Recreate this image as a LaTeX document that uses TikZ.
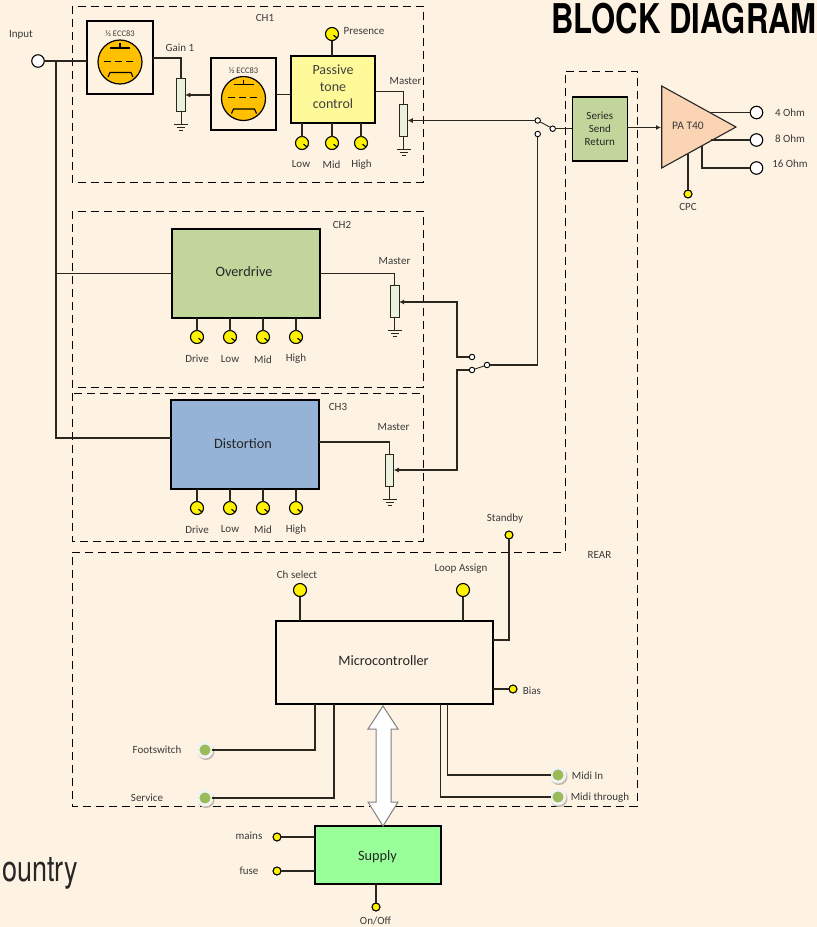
\documentclass[tikz,border=0pt]{standalone}
\usepackage{fontspec}
\setmainfont{Carlito}
\newfontfamily\titlefont{TeX Gyre Heros}
\usetikzlibrary{arrows.meta,calc}
\definecolor{bgc}{HTML}{FEF3E2}
\definecolor{txt}{HTML}{3A3A3A}
\definecolor{wirec}{HTML}{2A2620}
\definecolor{tubec}{HTML}{FFC000}
\definecolor{olive}{HTML}{C2D69B}
\definecolor{bluec}{HTML}{95B3D7}
\definecolor{potc}{HTML}{EAF1DD}
\definecolor{pac}{HTML}{FBD4B4}
\definecolor{jackg}{HTML}{9BBB59}
\newcommand{\fs}[1]{\fontsize{#1}{#1}\selectfont}
\tikzset{
  x=1pt,y=-1pt,
  blk/.style={draw=black,line width=1.1pt,inner sep=0pt,outer sep=0pt,align=center,text=black!85},
  potn/.style={draw=wirec,fill=potc,line width=1pt,minimum width=8.5pt,minimum height=32.5pt,inner sep=0pt,outer sep=0pt},
  wire/.style={draw=wirec,line width=1.05pt},
  feed/.style={wire,-{Latex[length=5pt,width=5pt]}},
  frame/.style={draw=black,line width=.9pt,dash pattern=on 8pt off 5pt},
  lab/.style={font=\fs{11},text=txt,inner sep=0pt},
  disc/.style={circle,draw=black,fill=yellow,line width=1.1pt,minimum size=13pt,inner sep=0pt,outer sep=0pt},
  knob/.style={disc,
    path picture={\draw[black,line width=1.1pt] ($(path picture bounding box.center)+(1.5,1.2)$) -- ++(6,4.8);}},
  dot/.style={circle,draw=black,fill=yellow,line width=1.1pt,minimum size=8pt,inner sep=0pt,outer sep=0pt},
  term/.style={circle,draw=black,fill=white,line width=1.1pt,minimum size=12.5pt,inner sep=0pt,outer sep=0pt},
  cont/.style={circle,draw=black,fill=white,line width=.9pt,minimum size=5.5pt,inner sep=0pt,outer sep=0pt},
  jack/.style={circle,fill=jackg,draw=white!90!gray,line width=3pt,minimum size=14pt,inner sep=0pt,outer sep=0pt},
  jackshadow/.style={circle,fill=black!25!bgc,minimum size=17pt,inner sep=0pt},
  gnd/.pic={\draw[wirec,line width=1pt] (0,0) -- (0,13) (-7,13) -- (7,13) (-4,16) -- (4,16) (-2,19) -- (2,19);},
  tube/.pic={
    \draw[black,line width=1.2pt,fill=tubec] (0,4.5) circle[radius=22];
    \draw[black,line width=1.1pt] (0,-14.5) -- (0,-9.5) (-10,-9.5) -- (10,-9.5);
    \draw[black,line width=.9pt,dash pattern=on 7pt off 4pt] (-16,3.5) -- (17,3.5);
    \draw[black,line width=1.1pt] (-12,19.5) -- (-10,15) -- (11,15) -- (13,19.5);
  }
}
\newcommand{\jackat}[2]{\node[jackshadow] at ($(#2)+(1,1.5)$) {}; \node[jack] (#1) at (#2) {};}
\begin{document}
\begin{tikzpicture}
\useasboundingbox[fill=bgc] (0,0) rectangle (817,927);

% title and stray text
\node[font=\titlefont\bfseries\fs{41},text=black,anchor=base east,inner sep=0pt,xscale=.758,transform shape] (title) at (817,33) {BLOCK DIAGRAM};
\node[font=\titlefont\fs{36},text=black!85,anchor=base west,inner sep=0pt,xscale=.75,transform shape] (country) at (2,881) {ountry};

% dashed frames
\draw[frame] (72,6) rectangle (423,182);
\draw[frame] (72,211) rectangle (423,387);
\draw[frame] (72,393) rectangle (423,541);
\draw[frame] (72,552) -- (565,552) -- (565,71) -- (637,71) -- (637,806) -- (72,806) -- cycle;

% blocks
\node[blk,fill=bgc,minimum width=66pt,minimum height=73pt] (tube1) at (120,57.5) {};
\pic at (120,57.5) {tube};
\node[lab,font=\fs{8.5}] (tube1lab) at (120,34) {½ ECC83};
\node[blk,fill=bgc,minimum width=65pt,minimum height=72pt] (tube2) at (243.5,94) {};
\pic at (243.5,94) {tube};
\node[lab,font=\fs{8.5}] (tube2lab) at (243.5,70.5) {½ ECC83};
\node[blk,fill=yellow!40,minimum width=84pt,minimum height=67pt] (tone) at (333,89.5) {};
\node[font=\fs{14},text=black!75,inner sep=0pt,align=center] (tonel) at (333,87) {Passive\\[3pt]tone\\[3pt]control};
\node[blk,fill=olive,minimum width=148pt,minimum height=89pt] (od) at (246,273.5) {};
\node[font=\fs{14.3},text=black!85,inner sep=0pt] (odl) at (244,272) {Overdrive};
\node[blk,fill=bluec,minimum width=148pt,minimum height=89pt] (dist) at (245,444.5) {};
\node[font=\fs{14.3},text=black!85,inner sep=0pt] (distl) at (243,444) {Distortion};
\node[blk,fill=olive,minimum width=55pt,minimum height=64pt,font=\fs{11}] (series) at (599.8,129) {Series\\[2pt]Send\\[2pt]Return};
\node[blk,fill=bgc,minimum width=217pt,minimum height=83pt] (micro) at (384.5,662.5) {};
\node[font=\fs{14.3},text=black!85,inner sep=0pt] (microl) at (383.5,660.5) {Microcontroller};
\node[blk,fill=green!40!white,minimum width=126pt,minimum height=58pt] (supply) at (378,855) {};
\node[font=\fs{14.3},text=black!85,inner sep=0pt] (supplyl) at (377.5,857) {Supply};

% power amp
\draw[line width=1.1pt,draw=black!85,fill=pac] (661.7,86) -- (736,127) -- (661.7,168) -- cycle;
\node[lab,font=\fs{11.5}] (pa) at (688,125.5) {PA T40};
\coordinate (pain) at (661,127.5);

% pots
\node[potn] (gain) at (181,95) {};
\node[potn] (m1) at (403.5,120.5) {};
\node[potn] (m2) at (394.8,301.5) {};
\node[potn] (m3) at (389.5,470.3) {};
\pic at (gain.south) {gnd};
\pic at (m1.south) {gnd};
\pic at (m2.south) {gnd};
\pic at (m3.south) {gnd};

% input
\node[term] (input) at (38,61) {};
\coordinate (tap) at (56,61);

% knobs
\node[knob] (presence) at (332,34) {};
\node[knob] (low1) at (302,143) {};
\node[knob] (mid1) at (332,143) {};
\node[knob] (high1) at (361,143) {};
\foreach \n/\x in {drive2/197,low2/230,mid2/263,high2/296}{\node[knob] (\n) at (\x,337) {};}
\foreach \n/\x in {drive3/197,low3/230,mid3/263,high3/296}{\node[knob] (\n) at (\x,508) {};}
\node[disc] (chsel) at (300,590) {};
\node[disc] (loop) at (463,590) {};
\node[dot] (standby) at (509,535) {};
\node[dot] (bias) at (513,689) {};
\node[dot] (cpc) at (688,194) {};
\node[dot] (mains) at (277,837) {};
\node[dot] (fuse) at (277,871) {};
\node[dot] (onoff) at (376,907) {};

% outputs
\node[term] (o4) at (756.5,112.5) {};
\node[term] (o8) at (756.5,140) {};
\node[term] (o16) at (756.5,168) {};

% jacks
\jackat{foot}{205,750}
\jackat{service}{205,798}
\jackat{midiin}{558,775}
\jackat{midith}{558,797}

% switches
\node[cont] (sa1) at (537.7,120.5) {};
\node[cont] (sa2) at (537.7,134) {};
\node[cont] (sap) at (552.7,128.7) {};
\node[cont] (sb1) at (472,357) {};
\node[cont] (sb2) at (472,370) {};
\node[cont] (sbp) at (487,365) {};
\draw[wire,line width=.9pt] (sa1) -- (sap);
\draw[wire,line width=.9pt] (sb2) -- (sbp);

% wiring
\draw[wire] (input) -- (tube1.west |- input);
\draw[wire] (tap) |- (od.west);
\draw[wire] (tap) |- (dist.west |- 0,438);
\draw[wire] (tube1.east |- 0,58) -| (gain.north);
\draw[feed] (tube2.west |- gain) -- (gain.east);
\draw[wire] (tube2.east |- 0,94.5) -- (tone.west |- 0,94.5);
\draw[wire] (tone.east |- m1.north) ++(0,-13) -| (m1.north);
\draw[wire] (presence) -- (tone.north -| presence);
\draw[wire] (low1) -- (tone.south -| low1);
\draw[wire] (mid1) -- (tone.south -| mid1);
\draw[wire] (high1) -- (tone.south -| high1);
\foreach \n in {drive2,low2,mid2,high2}{\draw[wire] (\n) -- (od.south -| \n);}
\foreach \n in {drive3,low3,mid3,high3}{\draw[wire] (\n) -- (dist.south -| \n);}
\draw[wire] (od.east) -| (m2.north);
\draw[wire] (dist.east |- 0,442) -| (m3.north);
\draw[feed] (sa1) -- (m1.east |- sa1);
\draw[feed] (sb1) -| (457,302) -- (m2.east |- 0,302);
\draw[feed] (sb2) -| (457,470) -- (m3.east |- 0,470);
\draw[wire] (sbp) -| (sa2);
\draw[wire] (sap) -- (series.west |- sap);
\draw[feed] (series.east |- pain) -- (pain);
\draw[wire] (711,112.5) -- (o4);
\draw[wire] (711,140) -- (o8);
\draw[wire] (702,146) |- (o16);
\draw[wire] (cpc) -- (688,154);
\draw[wire] (chsel) -- (micro.north -| chsel);
\draw[wire] (loop) -- (micro.north -| loop);
\draw[wire] (standby) |- (micro.east |- 0,640);
\draw[wire] (bias) -- (micro.east |- bias);
\draw[wire] (foot) -| (micro.south -| 315,0);
\draw[wire] (service) -| (micro.south -| 334,0);
\draw[wire] (midiin) -| (micro.south -| 447.5,0);
\draw[wire] (midith) -| (micro.south -| 440.5,0);
\draw[wire] (mains) -- (supply.west |- mains);
\draw[wire] (fuse) -- (supply.west |- fuse);
\draw[wire] (onoff) -- (supply.south -| onoff);
% double arrow between controller and supply
\draw[draw=black!50,line width=1pt,fill=white] (383,706) -- (398,729) -- (391,729) -- (391,802) -- (398,802) -- (383,826) -- (368,802) -- (376,802) -- (376,729) -- (368,729) -- cycle;

% labels
\node[lab] (l1) at (21,34.5) {Input};
\node[lab] (l2) at (265,18) {CH1};
\node[lab] (l3) at (342,225) {CH2};
\node[lab] (l4) at (338,407) {CH3};
\node[lab] (l5) at (180,47.5) {Gain 1};
\node[lab] (l6) at (364,31.5) {Presence};
\node[lab] (l7) at (405.5,81.5) {Master};
\node[lab] (l8) at (394.5,261.5) {Master};
\node[lab] (l9) at (393.5,427.5) {Master};
\node[lab] at (301,164.5) {Low};
\node[lab] at (331.5,164.5) {Mid};
\node[lab] at (361.5,164.5) {High};
\foreach \t/\x/\yy in {Drive/197/358.5,Low/230/359.5,Mid/263/359.5,High/296/358.5}{\node[lab] at (\x,\yy) {\t};}
\foreach \t/\x in {Drive/197,Low/230,Mid/263,High/296}{\node[lab] at (\x,529.5) {\t};}
\node[lab] at (790,113) {4 Ohm};
\node[lab] at (790,139) {8 Ohm};
\node[lab] at (790,164) {16 Ohm};
\node[lab] at (688,206.5) {CPC};
\node[lab] at (505,519) {Standby};
\node[lab] at (599.5,554.5) {REAR};
\node[lab] at (297,574.5) {Ch select};
\node[lab] at (461,569) {Loop Assign};
\node[lab] at (532,690.5) {Bias};
\node[lab] at (157,749.5) {Footswitch};
\node[lab] at (147,797.5) {Service};
\node[lab] at (587.5,775.5) {Midi In};
\node[lab] at (600,797.5) {Midi through};
\node[lab] at (249,836) {mains};
\node[lab] at (249,870.5) {fuse};
\node[lab] at (375.5,920.5) {On/Off};
\end{tikzpicture}
\end{document}
